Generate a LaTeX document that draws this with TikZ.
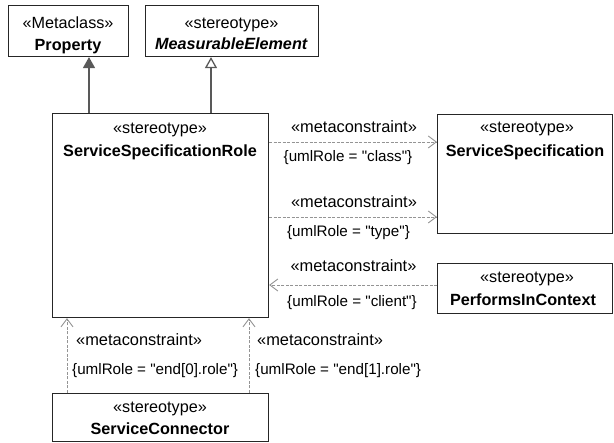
\documentclass[tikz,border=0pt]{standalone}
\usepackage{fontspec}
\setmainfont{Liberation Sans}
\newfontfamily\lblfont{Liberation Sans}
\usetikzlibrary{arrows.meta}
\begin{document}
\begin{tikzpicture}[x=1pt,y=-1pt,
  box/.style={draw=black!85, line width=1.1pt, inner sep=0pt, anchor=north west},
  txt/.style={inner sep=0pt, anchor=base, font=\fontsize{16.2}{19}\selectfont},
  lbl/.style={inner sep=0pt, font=\lblfont\fontsize{15.2}{18}\selectfont},
  mlbl/.style={inner sep=0pt, font=\fontsize{16.4}{19}\selectfont},
  gen/.style={draw=black!65, line width=1.3pt},
  dep/.style={draw=black!42, line width=0.9pt, dash pattern=on 3pt off 1.5pt, -{Straight Barb[length=8pt,width=12pt]}}
]
\useasboundingbox (0,0) rectangle (614,443);
% boxes
\node[box, minimum width=120pt, minimum height=51pt] (prop) at (8,5) {};
\node[box, minimum width=173pt, minimum height=51pt] (meas) at (145,5) {};
\node[box, minimum width=216pt, minimum height=204pt] (ssr) at (52,113) {};
\node[box, minimum width=175pt, minimum height=119pt] (ss) at (437,114) {};
\node[box, minimum width=175pt, minimum height=50pt] (pic) at (437,263) {};
\node[box, minimum width=216pt, minimum height=48pt] (sc) at (52,393) {};
% box texts
\node[txt] (propS) at (68,29) {«Metaclass»};
\node[txt] (propN) at (68,51) {\textbf{Property}};
\node[txt] (measS) at (231.5,29) {«stereotype»};
\node[txt] (measN) at (231.5,50) {\textbf{\textit{MeasurableElement}}};
\node[txt] (ssrS) at (160,134) {«stereotype»};
\node[txt] (ssrN) at (160,157) {\textbf{ServiceSpecificationRole}};
\node[txt] (ssS) at (527,133) {«stereotype»};
\node[txt] (ssN) at (525,157) {\textbf{ServiceSpecification}};
\node[txt] (picS) at (527,283) {«stereotype»};
\node[txt] (picN) at (523,306) {\textbf{PerformsInContext}};
\node[txt] (scS) at (160,413) {«stereotype»};
\node[txt] (scN) at (160,435) {\textbf{ServiceConnector}};
% generalizations
\draw[gen, -{Triangle[length=11pt,width=12pt]}] ([xshift=37pt]ssr.north west) -- ([xshift=81pt]prop.south west);
\draw[gen, -{Triangle[open,length=11pt,width=12pt]}] ([xshift=159pt]ssr.north west) -- ([xshift=66pt]meas.south west);
% metaconstraints
\draw[dep] ([yshift=-29pt]ssr.north east) -- ([yshift=-28pt]ss.north west);
\draw[dep] ([yshift=-104pt]ssr.north east) -- ([yshift=-103pt]ss.north west);
\draw[dep] ([yshift=-22pt]pic.north west) -- ([yshift=-172pt]ssr.north east);
\draw[dep] ([xshift=15pt]sc.north west) -- ([xshift=15pt]ssr.south west);
\draw[dep] ([xshift=197pt]sc.north west) -- ([xshift=197pt]ssr.south west);
% labels
\node[mlbl, anchor=base] (l1a) at (354,133) {«metaconstraint»};
\node[lbl, anchor=base] (l1b) at (348,162) {\{umlRole = "class"\}};
\node[mlbl, anchor=base] (l2a) at (354,208) {«metaconstraint»};
\node[lbl, anchor=base] (l2b) at (348.5,237) {\{umlRole = "type"\}};
\node[mlbl, anchor=base] (l3a) at (353.5,272) {«metaconstraint»};
\node[lbl, anchor=base] (l3b) at (352,307) {\{umlRole = "client"\}};
\node[mlbl, anchor=base west] (l4a) at (76,346) {«metaconstraint»};
\node[lbl, anchor=base west] (l4b) at (72,375) {\{umlRole = "end[0].role"\}};
\node[mlbl, anchor=base west] (l5a) at (257,346) {«metaconstraint»};
\node[lbl, anchor=base west] (l5b) at (255,375) {\{umlRole = "end[1].role"\}};
\end{tikzpicture}
\end{document}
